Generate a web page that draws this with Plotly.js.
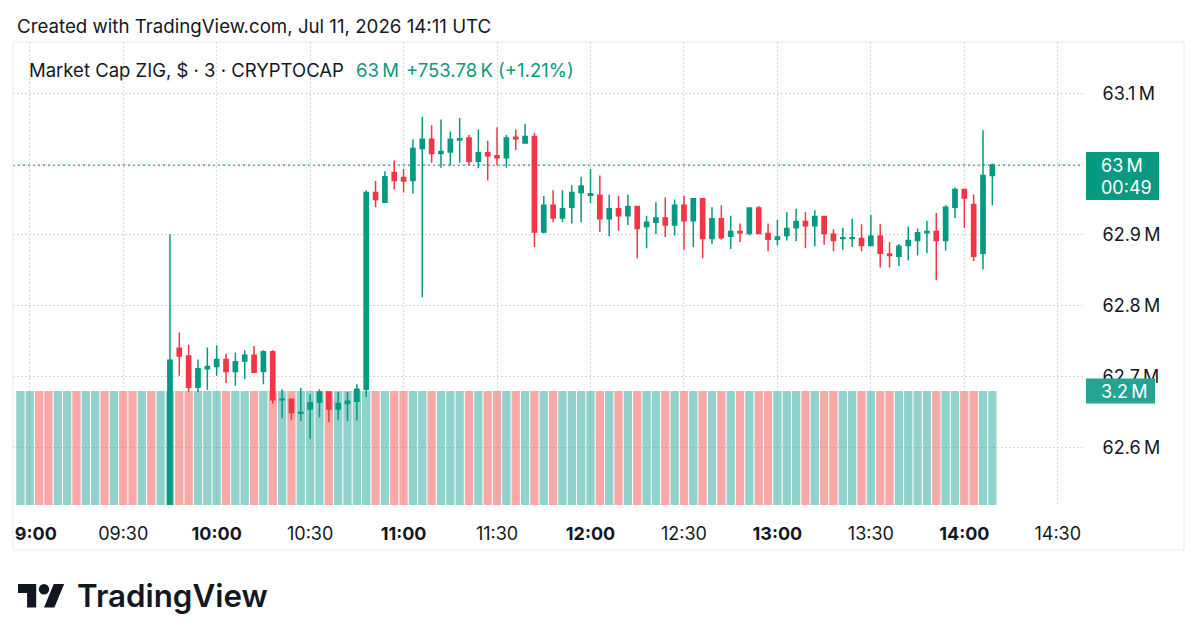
<!DOCTYPE html>
<html>
<head>
<meta charset="utf-8">
<script src="https://cdn.plot.ly/plotly-3.0.1.min.js"></script>
<style>
html,body{margin:0;padding:0;background:#fff;}
#wrap{position:relative;width:1200px;height:644px;overflow:hidden;}
#chart{width:1200px;height:644px;}
#logo{position:absolute;left:0;top:0;pointer-events:none;}
</style>
</head>
<body>
<div id="wrap">
<div id="chart"></div>
<svg id="logo" width="1200" height="644" xmlns="http://www.w3.org/2000/svg">
  <g transform="translate(18,578.8) scale(1.3)" fill="#131722">
    <path d="M14 22H7V11H0V4h14v18zM28 22h-8l7.5-18h8L28 22z"/>
    <circle cx="20" cy="8" r="4"/>
  </g>
  <text x="77" y="607" font-family="Inter, 'Open Sans', sans-serif" font-weight="600" font-size="31.3" fill="#131722">TradingView</text>
</svg>
</div>
<script>
// ---- data (market cap, in millions of USD; 3-minute candles, 11 Jul 2026) ----
const day = '2026-07-11';

// bars before 09:45 whose candles lie below the visible price range
const preTimes = ['08:57','09:00','09:03','09:06','09:09','09:12','09:15','09:18','09:21','09:24','09:27','09:30','09:33','09:36','09:39','09:42'];
const preDirection = ['up','up','down','down','up','up','down','up','up','down','up','down','down','up','down','up'];

const candleTimes = [
 '09:45','09:48','09:51','09:54','09:57',
 '10:00','10:03','10:06','10:09','10:12','10:15','10:18','10:21','10:24','10:27','10:30','10:33','10:36','10:39','10:42','10:45','10:48','10:51','10:54','10:57',
 '11:00','11:03','11:06','11:09','11:12','11:15','11:18','11:21','11:24','11:27','11:30','11:33','11:36','11:39','11:42','11:45','11:48','11:51','11:54','11:57',
 '12:00','12:03','12:06','12:09','12:12','12:15','12:18','12:21','12:24','12:27','12:30','12:33','12:36','12:39','12:42','12:45','12:48','12:51','12:54','12:57',
 '13:00','13:03','13:06','13:09','13:12','13:15','13:18','13:21','13:24','13:27','13:30','13:33','13:36','13:39','13:42','13:45','13:48','13:51','13:54','13:57',
 '14:00','14:03','14:06','14:09'
];

const open = [
 62.450,62.740,62.729,62.685,62.711,
 62.714,62.724,62.707,62.722,62.730,62.707,62.735,62.667,62.668,62.648,62.654,62.664,62.678,62.654,62.662,62.665,62.682,62.960,62.946,62.988,
 62.981,62.977,63.022,63.035,63.015,63.017,63.034,63.037,63.004,63.016,63.012,63.009,63.038,63.030,63.039,62.904,62.942,62.924,62.939,62.960,
 62.956,62.956,62.923,62.937,62.927,62.940,62.912,62.918,62.924,62.914,62.942,62.920,62.951,62.895,62.923,62.898,62.905,62.902,62.938,62.902,
 62.894,62.899,62.910,62.919,62.913,62.926,62.901,62.895,62.895,62.895,62.885,62.898,62.873,62.870,62.885,62.892,62.903,62.905,62.892,62.939,
 62.964,62.943,62.874,62.984
];
const high = [
 62.901,62.762,62.745,62.724,62.741,
 62.744,62.732,62.734,62.737,62.743,62.737,62.737,62.682,62.669,62.684,62.675,62.682,62.679,62.678,62.678,62.689,62.963,62.976,62.990,63.005,
 62.993,63.035,63.067,63.055,63.063,63.046,63.065,63.041,63.049,63.033,63.052,63.041,63.049,63.057,63.044,62.955,62.963,62.963,62.970,62.982,
 62.993,62.984,62.957,62.955,62.957,62.941,62.927,62.946,62.953,62.950,62.955,62.951,62.951,62.939,62.942,62.927,62.916,62.938,62.941,62.916,
 62.921,62.932,62.937,62.932,62.935,62.927,62.908,62.910,62.923,62.915,62.928,62.915,62.890,62.887,62.912,62.909,62.920,62.931,62.942,62.967,
 62.964,62.957,63.048,63.001
];
const low = [
 62.440,62.701,62.678,62.678,62.681,
 62.701,62.691,62.687,62.696,62.705,62.689,62.662,62.641,62.639,62.637,62.612,62.642,62.636,62.639,62.637,62.638,62.671,62.939,62.946,62.964,
 62.960,62.958,62.812,63.002,62.995,62.998,63.002,62.998,62.994,62.977,62.998,62.995,63.020,63.030,62.883,62.902,62.918,62.918,62.916,62.918,
 62.945,62.904,62.898,62.906,62.914,62.867,62.881,62.901,62.897,62.899,62.879,62.883,62.867,62.887,62.893,62.880,62.890,62.899,62.901,62.877,
 62.885,62.892,62.891,62.881,62.884,62.886,62.877,62.879,62.883,62.877,62.885,62.854,62.854,62.856,62.864,62.871,62.874,62.836,62.878,62.924,
 62.910,62.863,62.851,62.942
];
const close = [
 62.723,62.729,62.685,62.711,62.714,
 62.724,62.707,62.721,62.730,62.706,62.735,62.667,62.668,62.649,62.649,62.663,62.678,62.654,62.662,62.665,62.682,62.960,62.950,62.982,62.977,
 62.976,63.022,63.035,63.015,63.018,63.035,63.036,63.004,63.016,63.012,63.009,63.037,63.036,63.039,62.904,62.942,62.924,62.937,62.960,62.969,
 62.958,62.923,62.937,62.927,62.940,62.909,62.918,62.924,62.914,62.942,62.920,62.951,62.895,62.923,62.896,62.905,62.903,62.938,62.902,62.894,
 62.897,62.909,62.919,62.913,62.926,62.902,62.892,62.896,62.896,62.885,62.898,62.874,62.871,62.884,62.892,62.903,62.905,62.892,62.939,62.964,
 62.952,62.870,62.984,62.9986
];

// volume (millions), one per 3-minute bar from 08:57 to 14:09
const volume = [
 3.2,3.2,3.2,3.2,3.2,3.2,3.2,3.2,3.2,3.2,3.2,3.2,3.2,3.2,3.2,3.2,
 3.2,3.2,3.2,3.2,3.2,
 3.2,3.2,3.2,3.2,3.2,3.2,3.2,3.2,3.2,3.2,3.2,3.2,3.2,3.2,3.2,3.2,3.2,3.2,3.2,3.2,
 3.2,3.2,3.2,3.2,3.2,3.2,3.2,3.2,3.2,3.2,3.2,3.2,3.2,3.2,3.2,3.2,3.2,3.2,3.2,3.2,
 3.2,3.2,3.2,3.2,3.2,3.2,3.2,3.2,3.2,3.2,3.2,3.2,3.2,3.2,3.2,3.2,3.2,3.2,3.2,3.2,
 3.2,3.2,3.2,3.2,3.2,3.2,3.2,3.2,3.2,3.2,3.2,3.2,3.2,3.2,3.2,3.2,3.2,3.2,3.2,3.2,
 3.2,3.2,3.2,3.2
];

const timeTicks = ['09:00','09:30','10:00','10:30','11:00','11:30','12:00','12:30','13:00','13:30','14:00','14:30'];
const timeTickLabels = ['<b>09:00</b>','09:30','<b>10:00</b>','10:30','<b>11:00</b>','11:30','<b>12:00</b>','12:30','<b>13:00</b>','13:30','<b>14:00</b>','14:30'];
const priceTicks = [62.6, 62.7, 62.8, 62.9, 63.0, 63.1];
const priceTickLabels = ['62.6\u2009M','62.7\u2009M','62.8\u2009M','62.9\u2009M','63\u2009M','63.1\u2009M'];

const titleText = 'Market Cap ZIG, $ \u00b7 3 \u00b7 CRYPTOCAP';
const lastText = '63\u2009M';
const changeText = '+753.78\u2009K (+1.21%)';
const countdownText = '00:49';
const volumeText = '3.2\u2009M';
const creditText = 'Created with TradingView.com, Jul 11, 2026 14:11 UTC';

// ---- styles ----
const UP = '#089981', DOWN = '#f23645';
const UPVOL = 'rgba(38,166,154,0.5)', DOWNVOL = 'rgba(239,83,80,0.5)';
const FONT = 'Inter, "Open Sans", sans-serif';
const TXT = '#131722';

// plot area in pixels: x 13..1083, y 42..505
const L = 13, R = 1083, T = 42, B = 505;
const px = x => (x - L) / (R - L);
const py = y => 1 - (y - T) / (B - T);

const allTimes = preTimes.concat(candleTimes).map(t => day + ' ' + t);
const volColors = preDirection.map(d => d === 'up' ? UPVOL : DOWNVOL)
  .concat(candleTimes.map((t, i) => close[i] >= open[i] ? UPVOL : DOWNVOL));

const lastClose = close[close.length - 1];
const lastVol = volume[volume.length - 1];

const traces = [
  {
    type: 'bar', x: allTimes, y: volume, xaxis: 'x', yaxis: 'y',
    width: 160000,
    marker: {color: volColors, line: {width: 0}},
    hoverinfo: 'skip', showlegend: false
  },
  {
    type: 'candlestick', x: candleTimes.map(t => day + ' ' + t),
    open: open, high: high, low: low, close: close,
    xaxis: 'x', yaxis: 'y2',
    increasing: {line: {color: UP, width: 1.5}, fillcolor: UP},
    decreasing: {line: {color: DOWN, width: 1.5}, fillcolor: DOWN},
    whiskerwidth: 0,
    hoverinfo: 'skip', showlegend: false
  }
];

const layout = {
  width: 1200, height: 644,
  margin: {l: L, r: 1200 - R, t: T, b: 644 - B, pad: 0},
  paper_bgcolor: '#ffffff', plot_bgcolor: '#ffffff',
  showlegend: false, hovermode: false, dragmode: false,
  boxgap: 0.36,
  font: {family: FONT, color: TXT},
  xaxis: {
    type: 'date',
    range: [day + ' 08:54:37', day + ' 14:38:06'],
    tickmode: 'array',
    tickvals: timeTicks.map(t => day + ' ' + t),
    ticktext: timeTickLabels,
    showgrid: true, gridcolor: '#d5d8de', griddash: '2px,2px', gridwidth: 1,
    ticks: 'outside', ticklen: 12, tickcolor: 'rgba(0,0,0,0)',
    tickfont: {family: FONT, size: 18, color: TXT},
    zeroline: false, showline: false,
    rangeslider: {visible: false}, fixedrange: true
  },
  yaxis: {
    range: [0, 13.0],
    showgrid: false, zeroline: false, showticklabels: false, showline: false,
    fixedrange: true
  },
  yaxis2: {
    overlaying: 'y', side: 'right', anchor: 'x',
    range: [62.5185, 63.1725],
    tickmode: 'array', tickvals: priceTicks, ticktext: priceTickLabels,
    showgrid: true, gridcolor: '#d5d8de', griddash: '2px,2px', gridwidth: 1,
    ticks: 'outside', ticklen: 15, tickcolor: 'rgba(0,0,0,0)',
    tickfont: {family: FONT, size: 18, color: TXT},
    zeroline: false, showline: false, fixedrange: true
  },
  shapes: [
    // current price line
    {type: 'line', xref: 'paper', x0: 0, x1: 1, yref: 'y2', y0: lastClose, y1: lastClose,
     line: {color: UP, width: 1.3, dash: '2px,3px'}, layer: 'below'},
    // clip the time axis at the pane's left edge
    {type: 'rect', xref: 'paper', yref: 'paper', x0: px(-5), x1: px(15), y0: py(549), y1: py(506),
     fillcolor: '#ffffff', line: {width: 0}, layer: 'above'},
    // pane frame
    {type: 'rect', xref: 'paper', yref: 'paper', x0: px(13), x1: px(1184), y0: py(550), y1: py(42),
     fillcolor: 'rgba(0,0,0,0)', line: {color: '#e6e8ee', width: 1}, layer: 'above'},
    // last price label box
    {type: 'rect', xref: 'paper', x0: px(1086), x1: px(1159),
     yref: 'y2', ysizemode: 'pixel', yanchor: lastClose, y0: -35, y1: 13,
     fillcolor: UP, line: {width: 0}, layer: 'above'},
    // volume label box
    {type: 'rect', xref: 'paper', x0: px(1086), x1: px(1155),
     yref: 'y', ysizemode: 'pixel', yanchor: lastVol, y0: -12.5, y1: 12.5,
     fillcolor: '#26a493', line: {width: 0}, layer: 'above'}
  ],
  annotations: [
    {text: creditText, xref: 'paper', yref: 'paper', x: px(15), y: py(27), xanchor: 'left', yanchor: 'middle',
     showarrow: false, font: {family: FONT, size: 18.7, color: TXT}},
    {text: titleText, xref: 'paper', yref: 'paper', x: px(27), y: py(70), xanchor: 'left', yanchor: 'middle',
     showarrow: false, font: {family: FONT, size: 18.5, color: TXT}},
    {text: lastText, xref: 'paper', yref: 'paper', x: px(354), y: py(70), xanchor: 'left', yanchor: 'middle',
     showarrow: false, font: {family: FONT, size: 18.5, color: UP}},
    {text: changeText, xref: 'paper', yref: 'paper', x: px(404), y: py(70), xanchor: 'left', yanchor: 'middle',
     showarrow: false, font: {family: FONT, size: 18.5, color: UP}},
    {text: priceTickLabels[4], xref: 'paper', yref: 'y2', x: px(1099), y: lastClose, xanchor: 'left', yanchor: 'middle',
     showarrow: false, font: {family: FONT, size: 18, color: '#ffffff'}},
    {text: countdownText, xref: 'paper', yref: 'y2', x: px(1099), y: lastClose, yshift: -22, xanchor: 'left', yanchor: 'middle',
     showarrow: false, font: {family: FONT, size: 18, color: '#ffffff'}},
    {text: volumeText, xref: 'paper', yref: 'y', x: px(1099), y: lastVol, xanchor: 'left', yanchor: 'middle',
     showarrow: false, font: {family: FONT, size: 18, color: '#ffffff'}}
  ]
};

Plotly.newPlot('chart', traces, layout, {displayModeBar: false, staticPlot: true});
</script>
</body>
</html>
